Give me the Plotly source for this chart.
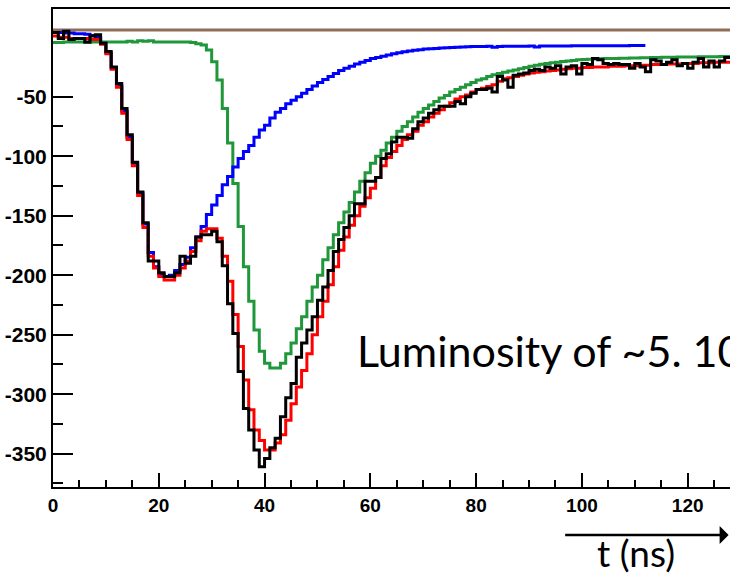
import plotly.graph_objects as go

# ---- data (signal amplitude per 1 ns time bin) ----
BIN_NS = 1.0

black_data = [4, -1, 5, -2, -1, -1, -4, 1, 2, -5,
              -12, -25, -39, -60, -82, -105, -130, -156, -188, -188,
              -198, -201, -201, -198, -184, -190, -184, -168, -166, -166,
              -163, -172, -192, -224, -249, -281, -312, -330, -347, -361,
              -354, -345, -337, -319, -303, -291, -269, -257, -246, -235,
              -221, -210, -196, -180, -170, -160, -150, -140, -140, -121,
              -121, -118, -102, -98, -88, -84, -84, -85, -77, -71,
              -68, -64, -61, -58, -58, -58, -54, -56, -50, -47,
              -44, -44, -43, -46, -33, -36, -42, -32, -31, -30,
              -28, -27, -28, -25, -26, -24, -31, -25, -24, -31,
              -22, -23, -18, -19, -22, -23, -22, -23, -23, -26,
              -22, -25, -29, -19, -20, -23, -21, -19, -24, -22,
              -26, -21, -18, -25, -20, -25, -20, -17]

red_sum = [1, 0, 0, -1, -1, -1, -1, -2, -2, -6,
           -14, -27, -42, -64, -86, -108, -133, -160, -184, -194,
           -201, -204, -204, -200, -194, -188, -180, -171, -163, -161,
           -161, -169, -184, -205, -233, -260, -288, -313, -330, -339,
           -347, -347, -341, -334, -322, -308, -294, -280, -266, -250,
           -235, -222, -208, -193, -179, -168, -158, -150, -142, -135,
           -127, -118, -108, -101, -96, -91, -86, -82, -79, -74,
           -71, -67, -64, -61, -58, -55, -52, -50, -48.5, -46,
           -44, -43, -41.5, -40, -37, -35, -34, -33, -32, -31,
           -30, -29.5, -29, -28.5, -28, -27.5, -27, -26.5, -26, -26,
           -25.5, -25.5, -25, -25, -25, -24.5, -24.5, -24.5, -24, -24,
           -24, -23.5, -23.5, -23, -23, -23, -22.5, -22.5, -22.5, -22,
           -22, -22, -21.5, -21.5, -21.5, -21, -21, -21]

blue_first = [4, 4, 3.5, 3.5, 3, 3, 2.5, 1.5, 0, -5,
              -13, -26, -41, -62, -84, -106, -131, -157, -181, -193,
              -199, -201, -200, -196, -191, -185, -177, -168, -159, -149,
              -141, -133, -124, -117, -109, -102, -96, -91, -84, -78,
              -74, -68, -63, -60, -56, -53, -50, -47, -44, -41,
              -38, -35.5, -33, -30.5, -28, -26, -24.5, -22.5, -21, -19.5,
              -18, -17, -16, -15, -14, -13, -12.2, -11.5, -11, -10.5,
              -10, -9.7, -9.4, -9.1, -8.8, -8.6, -8.4, -8.2, -8, -7.9,
              -7.8, -7.8, -7.7, -8.5, -7.9, -7.6, -7.6, -7.5, -7.5, -7.5,
              -7.4, -8.2, -7.4, -7.4, -7.3, -7.3, -7.3, -7.3, -7.2, -7.2,
              -7.2, -7.2, -7.2, -7.1, -7.1, -7.1, -7.1, -7.1, -7.1, -7.0,
              -7.0, -7.0]

green_second = [-4.5, -4.5, -4, -4, -4, -4, -4.5, -4, -4, -4,
                -4, -4, -4, -4, -3.5, -4, -3, -3.5, -3, -4,
                -4, -4, -4, -4, -4, -4, -4.5, -5.5, -6.5, -10.8,
                -20.6, -36, -60, -89, -123, -159, -193, -222, -246, -264,
                -274, -278, -278, -274, -266, -257, -245, -235, -222, -210,
                -200, -187, -177, -166, -156, -147, -139, -130, -121, -114,
                -106, -100, -95, -89, -84, -79, -75, -71, -67, -63,
                -60, -57, -54, -51, -49, -46, -44, -42, -40, -38,
                -36, -35, -33, -31.5, -30.5, -29.5, -28.5, -27.5, -26.5, -25.5,
                -24.5, -23.5, -22.8, -22, -21.5, -21, -20.5, -20, -19.5, -19,
                -18.8, -18.6, -18.4, -18.2, -18, -17.9, -17.8, -17.7, -17.6, -17.5,
                -17.4, -17.3, -17.2, -17.1, -17, -16.9, -16.8, -16.8, -16.7, -16.7,
                -16.6, -16.6, -16.5, -16.5, -16.4, -16.4, -16.3, -16.3]

baseline_level = 6.0

T_RANGE = [0, 128]
Y_RANGE = [-378, 23.7]
x_tick_vals = [0, 20, 40, 60, 80, 100, 120]
x_minor_vals = [5, 10, 15, 25, 30, 35, 45, 50, 55, 65, 70, 75, 85, 90, 95, 105, 110, 115, 125]
y_tick_vals = [-350, -300, -250, -200, -150, -100, -50]
y_minor_vals = [-375, -325, -275, -225, -175, -125, -75]

annotation_text = "Luminosity of ~5. 10"
x_title = "t (ns)"


def step_xy(vals):
    edges = [i * BIN_NS for i in range(len(vals) + 1)]
    return edges, list(vals) + [vals[-1]]


fig = go.Figure()

fig.add_trace(go.Scatter(x=T_RANGE, y=[baseline_level, baseline_level], mode="lines",
                         line=dict(color="#8f6e58", width=3), showlegend=False, hoverinfo="skip"))

for vals, col in [(green_second, "#1f973a"), (blue_first, "#0000ff"),
                  (red_sum, "#ff0000"), (black_data, "#000000")]:
    xs, ys = step_xy(vals)
    fig.add_trace(go.Scatter(x=xs, y=ys, mode="lines", line_shape="hv",
                             line=dict(color=col, width=3), showlegend=False))

tick_font = dict(family="Liberation Sans, Arial, sans-serif", size=21, color="black", weight="bold")

fig.update_xaxes(range=T_RANGE, showline=True, linecolor="black", linewidth=2, mirror=True,
                 ticks="inside", ticklen=14, tickwidth=1.5, tickcolor="black",
                 tickvals=x_tick_vals, ticktext=[str(v) for v in x_tick_vals],
                 tickfont=dict(tick_font, size=19),
                 minor=dict(ticks="inside", ticklen=7, tickwidth=1.5, tickcolor="black",
                            tickvals=x_minor_vals),
                 showgrid=False, zeroline=False)
fig.update_yaxes(range=Y_RANGE, showline=True, linecolor="black", linewidth=2,
                 ticks="inside", ticklen=20, tickwidth=1.5, tickcolor="black",
                 tickvals=y_tick_vals, ticktext=[str(v) for v in y_tick_vals],
                 tickfont=tick_font,
                 minor=dict(ticks="inside", ticklen=10, tickwidth=1.5, tickcolor="black",
                            tickvals=y_minor_vals),
                 showgrid=False, zeroline=False)

fig.add_annotation(text=annotation_text, xref="paper", yref="paper", x=0.446, y=0.2866,
                   xanchor="left", yanchor="middle", showarrow=False,
                   font=dict(family="Lato, Carlito, sans-serif", size=43, color="black"))
fig.add_annotation(text=x_title, xref="paper", yref="paper", x=0.861, y=-0.138,
                   xanchor="center", yanchor="middle", showarrow=False,
                   font=dict(family="Lato, Carlito, sans-serif", size=37, color="black"))
fig.add_annotation(text="", xref="paper", yref="paper", x=0.998, y=-0.1004,
                   ax=-165, ay=0, showarrow=True, arrowhead=1, arrowsize=1.2,
                   arrowwidth=2.5, arrowcolor="black")

fig.update_layout(width=730, height=577, margin=dict(l=53, r=0, t=9, b=90),
                  paper_bgcolor="white", plot_bgcolor="white", showlegend=False)

fig.write_html("out.html")
